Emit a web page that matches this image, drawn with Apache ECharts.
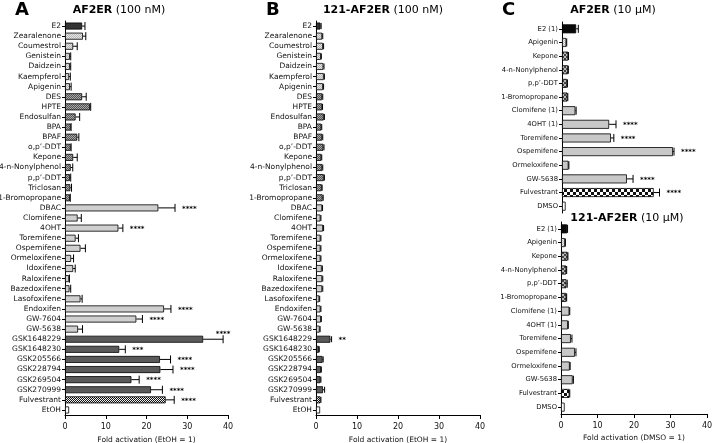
<!DOCTYPE html>
<html><head><meta charset="utf-8">
<script src="https://cdn.jsdelivr.net/npm/echarts@6/dist/echarts.min.js"></script>
<style>html,body{margin:0;padding:0;background:#fff}#c{width:713px;height:443px}</style>
</head><body><div id="c"></div>
<script>
// ---------- DATA ----------
const catsAB = ['E2','Zearalenone','Coumestrol','Genistein','Daidzein','Kaempferol','Apigenin','DES','HPTE','Endosulfan','BPA','BPAF','o,p’-DDT','Kepone','4-n-Nonylphenol','p,p’-DDT','Triclosan','1-Bromopropane','DBAC','Clomifene','4OHT','Toremifene','Ospemifene','Ormeloxifene','Idoxifene','Raloxifene','Bazedoxifene','Lasofoxifene','Endoxifen','GW-7604','GW-5638','GSK1648229','GSK1648230','GSK205566','GSK228794','GSK269504','GSK270999','Fulvestrant','EtOH'];
const classAB = ['estrogen','phyto','phyto','phyto','phyto','phyto','phyto','xeno','xeno','xeno','xeno','xeno','xeno','xeno','xeno','xeno','xeno','xeno','serm','serm','serm','serm','serm','serm','serm','serm','serm','serm','serm','serm','serm','serd','serd','serd','serd','serd','serd','fulv','vehicle'];
const valsA = [4.2,4.4,2.0,1.2,1.2,1.0,1.2,4.2,6.1,2.6,1.4,3.0,1.4,2.0,1.4,1.2,1.3,1.2,22.9,3.1,13.1,2.6,3.8,1.5,2.0,1.0,1.1,3.8,24.3,17.5,3.2,33.9,13.3,23.3,23.4,16.3,21.1,24.7,1.0];
const errA  = [0.7,0.7,1.0,0.2,0.2,0.3,0.3,1.0,0.2,1.0,0.1,0.4,0.1,1.0,0.5,0.2,0.3,0.1,4.1,0.9,1.1,0.7,1.2,0.6,0.5,0.1,0.3,0.4,1.7,1.5,1.1,4.9,1.5,2.6,3.1,1.9,2.8,2.1,0];
const sigA  = ['','','','','','','','','','','','','','','','','','','****','','****','','','','','','','','****','****','','****','***','****','****','****','****','****',''];
const valsB = [1.1,1.5,1.7,1.2,1.8,1.9,1.7,1.5,1.5,1.9,1.3,1.5,1.8,1.3,1.5,1.9,1.4,1.6,1.5,1.1,1.7,1.1,1.1,1.1,1.4,1.5,1.5,0.8,1.1,1.2,0.9,3.5,0.7,1.6,1.2,1.1,1.7,1.1,1.0];
const errB  = [0.15,0.15,0.15,0.1,0.15,0.15,0.15,0.15,0.1,0.15,0.1,0.15,0.15,0.1,0.15,0.15,0.1,0.15,0.1,0.1,0.15,0.1,0.1,0.1,0.15,0.15,0.15,0.1,0.1,0.1,0.1,0.3,0.1,0.15,0.1,0.1,0.4,0.1,0];
const sigB  = ['','','','','','','','','','','','','','','','','','','','','','','','','','','','','','','','**','','','','','','',''];
const catsC = ['E2 (1)','Apigenin','Kepone','4-n-Nonylphenol','p,p’-DDT','1-Bromopropane','Clomifene (1)','4OHT (1)','Toremifene','Ospemifene','Ormeloxifene','GW-5638','Fulvestrant','DMSO'];
const classC = ['estrogen','phyto','xeno','xeno','xeno','xeno','serm','serm','serm','serm','serm','serm','fulv','vehicle'];
const valsC1 = [3.9,1.2,1.7,1.65,1.4,1.5,3.7,13.0,13.5,30.6,1.8,17.9,25.3,1.0];
const errC1  = [0.6,0.1,0.1,0.1,0.1,0.1,0.2,1.9,0.8,0.3,0.1,1.7,1.6,0];
const sigC1  = ['','','','','','','','****','****','****','','****','****',''];
const valsC2 = [1.7,1.1,1.8,1.45,1.5,1.45,2.3,1.9,2.7,3.8,2.4,3.2,2.3,1.0];
const errC2  = [0.1,0.1,0.1,0.1,0.2,0.1,0.1,0.1,0.3,0.3,0.1,0.2,0.1,0];
const sigC2  = ['','','','','','','','','','','','','',''];
const xTicks = [0,10,20,30,40];

// ---------- STYLE ----------
const FONT = 'DejaVu Sans';
function checker(cell, c1, c2){
  const cv=document.createElement('canvas'); cv.width=cv.height=cell*2;
  const g=cv.getContext('2d'); g.fillStyle=c1; g.fillRect(0,0,cell*2,cell*2);
  g.fillStyle=c2; g.fillRect(0,0,cell,cell); g.fillRect(cell,cell,cell,cell);
  return {image:cv, repeat:'repeat'};
}
const fillAB = {estrogen:'#333333', phyto:checker(1,'#e4e4e4','#b8b8b8'), xeno:checker(1,'#555555','#a8a8a8'), serm:'#cfcfcf', serd:'#5a5a5a', fulv:checker(1,'#111111','#f4f4f4'), vehicle:'#ffffff'};
const fillC = {estrogen:'#0a0a0a', phyto:checker(1,'#f0f0f0','#bdbdbd'), xeno:checker(2,'#444444','#bbbbbb'), serm:'#c8c8c8', serd:'#5a5a5a', fulv:checker(3,'#111111','#ffffff'), vehicle:'#ffffff'};

function barData(vals, cls, fills){
  return vals.map((v,i)=>({value:v, itemStyle:{color:fills[cls[i]]}}));
}
function errSeries(idx, vals, errs, sigs, capH){
  return {
    type:'custom', xAxisIndex:idx, yAxisIndex:idx, z:10, clip:false, silent:true,
    encode:{x:0,y:1},
    data: vals.map((v,i)=>[v,i,errs[i]]),
    renderItem(params, api){
      const v=api.value(0), ci=api.value(1), e=api.value(2);
      const p0=api.coord([v,ci]), p1=api.coord([v+e,ci]);
      const ch=[];
      if(e>0){
        ch.push({type:'line',shape:{x1:p0[0],y1:p0[1],x2:p1[0],y2:p1[1]},style:{stroke:'#000',lineWidth:1}});
        ch.push({type:'line',shape:{x1:p1[0],y1:p1[1]-capH,x2:p1[0],y2:p1[1]+capH},style:{stroke:'#000',lineWidth:1}});
      }
      const s=sigs[params.dataIndex];
      if(s){
        const cs=params.coordSys; const right=cs.x+cs.width;
        let tx=p1[0]+7, ty=p1[1]+1, al='left';
        if(tx+s.length*3>right+2){ tx=p1[0]; ty=p1[1]-5; al='center'; }
        ch.push({type:'text',x:tx,y:ty,style:{text:s,fill:'#000',font:'bold 7px '+FONT,align:al,verticalAlign:'middle',textAlign:al,textVerticalAlign:'middle'}});
      }
      return {type:'group',children:ch};
    }
  };
}
function xAx(idx, name, show){
  return {gridIndex:idx, type:'value', min:0, max:40, interval:10, show:show,
    name:name, nameLocation:'middle', nameGap:20, nameTextStyle:{fontSize:7.5,color:'#111',fontFamily:FONT},
    axisLine:{show:true,lineStyle:{color:'#000',width:1}}, axisTick:{show:true,length:4,lineStyle:{color:'#000'}},
    axisLabel:{fontSize:8,color:'#111',fontFamily:FONT,margin:8}, splitLine:{show:false}};
}
function yAx(idx, cats, fs){
  return {gridIndex:idx, type:'category', data:cats, inverse:true,
    axisLine:{show:true,lineStyle:{color:'#000',width:1}}, axisTick:{show:true,alignWithLabel:true,length:3,lineStyle:{color:'#000'}},
    axisLabel:{fontSize:fs,color:'#111',fontFamily:FONT,margin:4,interval:0}, splitLine:{show:false}};
}
const bar = (idx, data, w)=>({type:'bar', xAxisIndex:idx, yAxisIndex:idx, data:data, barWidth:w, itemStyle:{borderColor:'#000',borderWidth:0.8}});

const titleStyle = {fontSize:11,fontWeight:'normal',color:'#000',fontFamily:FONT,rich:{b:{fontSize:11,fontWeight:'bold',fontFamily:FONT,color:'#000'}}};
const letterStyle = {fontSize:18,fontWeight:'bold',color:'#000',fontFamily:FONT};
const option = {
  animation:false,
  backgroundColor:'#fff',
  title:[
    {text:'A', left:15, top:1, padding:0, textStyle:letterStyle},
    {text:'B', left:266, top:1, padding:0, textStyle:letterStyle},
    {text:'C', left:502, top:1, padding:0, textStyle:letterStyle},
    {text:'{b|AF2ER} (100 nM)', left:119, top:5, padding:0, textAlign:'center', textStyle:titleStyle},
    {text:'{b|121-AF2ER} (100 nM)', left:383, top:5, padding:0, textAlign:'center', textStyle:titleStyle},
    {text:'{b|AF2ER} (10 µM)', left:613, top:5, padding:0, textAlign:'center', textStyle:titleStyle},
    {text:'{b|121-AF2ER} (10 µM)', left:627, top:213, padding:0, textAlign:'center', textStyle:titleStyle}
  ],
  grid:[
    {left:65, top:21, width:163, height:394, outerBoundsMode:'none', containLabel:false},
    {left:316, top:21, width:164, height:394, outerBoundsMode:'none', containLabel:false},
    {left:562, top:22, width:145, height:191, outerBoundsMode:'none', containLabel:false},
    {left:561, top:222, width:146, height:192, outerBoundsMode:'none', containLabel:false}
  ],
  xAxis:[ xAx(0,'Fold activation (EtOH = 1)',true), xAx(1,'Fold activation (EtOH = 1)',true), xAx(2,'',false), xAx(3,'Fold activation (DMSO = 1)',true) ],
  yAxis:[ yAx(0,catsAB,7.5), yAx(1,catsAB,7.5), yAx(2,catsC,6.8), yAx(3,catsC,6.8) ],
  series:[
    bar(0, barData(valsA,classAB,fillAB), 7),
    bar(1, barData(valsB,classAB,fillAB), 7),
    bar(2, barData(valsC1,classC,fillC), 9),
    bar(3, barData(valsC2,classC,fillC), 9),
    errSeries(0, valsA, errA, sigA, 4),
    errSeries(1, valsB, errB, sigB, 3),
    errSeries(2, valsC1, errC1, sigC1, 4),
    errSeries(3, valsC2, errC2, sigC2, 4)
  ]
};
const chart = echarts.init(document.getElementById('c'), null, {renderer:'canvas'});
chart.setOption(option);
</script>
</body></html>
